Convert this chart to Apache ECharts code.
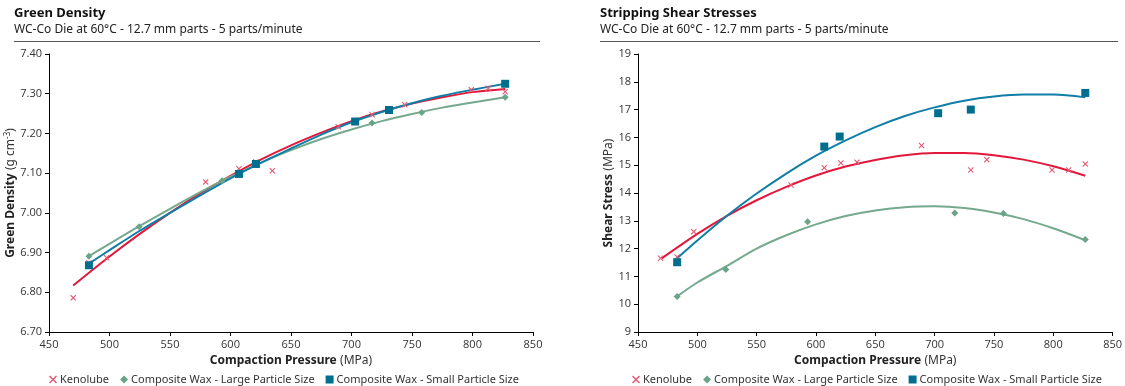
<!DOCTYPE html>
<html><head><meta charset="utf-8">
<script src="https://cdn.jsdelivr.net/npm/echarts@6/dist/echarts.min.js"></script>
<style>html,body{margin:0;padding:0;background:#fff}#c{width:1125px;height:386px}</style>
</head><body><div id="c"></div>
<script>
// ---------- data ----------
const seriesNames = ['Kenolube', 'Composite Wax - Large Particle Size', 'Composite Wax - Small Particle Size'];

// Green Density chart
const gdKenoX = [470, 483, 497.6, 579.5, 607, 621, 634.6, 689, 703, 717, 744, 799, 813, 827];
const gdKenoY = [6.786, 6.874, 6.887, 7.078, 7.111, 7.128, 7.106, 7.217, 7.232, 7.247, 7.272, 7.31, 7.314, 7.305];
const gdLargeX = [483, 524.5, 593, 717, 758, 827];
const gdLargeY = [6.891, 6.965, 7.081, 7.226, 7.253, 7.291];
const gdSmallX = [483, 607, 621, 703, 731, 827];
const gdSmallY = [6.868, 7.098, 7.123, 7.230, 7.259, 7.325];
// trend lines
const gdKenoTrendX = [470, 500, 525, 550, 575, 600, 625, 650, 675, 700, 725, 750, 775, 800, 827];
const gdKenoTrendY = [6.817, 6.890, 6.947, 7.000, 7.049, 7.093, 7.134, 7.170, 7.202, 7.231, 7.255, 7.275, 7.291, 7.304, 7.312];
const gdLargeTrendX = [483, 500, 525, 550, 575, 600, 625, 650, 675, 700, 725, 750, 775, 800, 827];
const gdLargeTrendY = [6.891, 6.922, 6.967, 7.010, 7.052, 7.091, 7.126, 7.158, 7.186, 7.210, 7.231, 7.249, 7.265, 7.278, 7.291];
const gdSmallTrendX = [483, 500, 525, 550, 575, 600, 625, 650, 675, 700, 725, 750, 775, 800, 827];
const gdSmallTrendY = [6.872, 6.906, 6.955, 7.000, 7.044, 7.087, 7.126, 7.162, 7.197, 7.228, 7.254, 7.276, 7.295, 7.310, 7.325];

// Shear Stress chart
const ssKenoX = [469, 483, 497, 579, 607, 621, 634.5, 689, 730.5, 744, 799, 813, 827];
const ssKenoY = [11.655, 11.70, 12.61, 14.29, 14.91, 15.08, 15.11, 15.71, 14.83, 15.20, 14.83, 14.83, 15.04];
const ssLargeX = [483, 524, 593, 717, 758, 827];
const ssLargeY = [10.28, 11.25, 12.97, 13.28, 13.26, 12.33];
const ssSmallX = [483, 607, 620, 703, 730.5, 827];
const ssSmallY = [11.51, 15.67, 16.03, 16.87, 17.00, 17.60];
const ssKenoTrendX = [470, 500, 525, 550, 575, 600, 625, 650, 675, 700, 725, 750, 775, 800, 827];
const ssKenoTrendY = [11.65, 12.53, 13.18, 13.74, 14.22, 14.63, 14.95, 15.19, 15.36, 15.44, 15.44, 15.36, 15.20, 14.96, 14.62];
const ssLargeTrendX = [483, 500, 525, 550, 575, 600, 625, 650, 675, 700, 725, 750, 775, 800, 827];
const ssLargeTrendY = [10.28, 10.78, 11.38, 12.00, 12.48, 12.87, 13.17, 13.37, 13.49, 13.52, 13.46, 13.30, 13.06, 12.73, 12.30];
const ssSmallTrendX = [483, 500, 525, 550, 575, 600, 625, 650, 675, 700, 725, 750, 775, 800, 827];
const ssSmallTrendY = [11.65, 12.29, 13.18, 13.98, 14.70, 15.34, 15.89, 16.37, 16.77, 17.08, 17.32, 17.47, 17.54, 17.54, 17.44];

const xMin = 450, xMax = 850, xStep = 50;
const gdMin = 6.70, gdMax = 7.40, gdStep = 0.10;
const ssMin = 9, ssMax = 19, ssStep = 1;

// ---------- styles ----------
const RED_LINE = '#e3173c', RED_MK = '#e65a74';
const GREEN_LINE = '#75a98e', GREEN_MK = '#6aa387';
const BLUE_LINE = '#0f7ea6', BLUE_MK = '#006f8e';
const XPATH = 'path://M0,1.3L1.3,0L5,3.7L8.7,0L10,1.3L6.3,5L10,8.7L8.7,10L5,6.3L1.3,10L0,8.7L3.7,5Z';
const FONT = '"Open Sans", "Noto Sans", sans-serif';

const zip = (xs, ys) => xs.map((x, i) => [x, ys[i]]);

function axisX(gi) {
  return {
    type: 'value', gridIndex: gi, min: xMin, max: xMax, interval: xStep,
    axisLine: { show: true, onZero: false, lineStyle: { color: '#000', width: 1 } },
    axisTick: { show: true, length: 4, lineStyle: { color: '#000' } },
    axisLabel: { color: '#333', fontSize: 11, fontFamily: FONT, margin: 7 },
    splitLine: { show: false },
    name: '{b|Compaction Pressure} {n|(MPa)}', nameLocation: 'middle', nameGap: 20,
    nameTextStyle: { rich: {
      b: { fontWeight: 'bold', fontSize: 12, color: '#222', fontFamily: '"Noto Sans", sans-serif' },
      n: { fontSize: 12, color: '#333', fontFamily: '"Noto Sans", sans-serif' } } }
  };
}
function axisY(gi, mn, mx, st, dec, name, gap) {
  return {
    type: 'value', gridIndex: gi, min: mn, max: mx, interval: st,
    axisLine: { show: true, lineStyle: { color: '#000', width: 1 } },
    axisTick: { show: true, length: 4, lineStyle: { color: '#000' } },
    axisLabel: { color: '#333', fontSize: 11, fontFamily: FONT, margin: 7,
      formatter: v => v.toFixed(dec) },
    splitLine: { show: false },
    name: name, nameLocation: 'middle', nameGap: gap,
    nameTextStyle: { rich: {
      b: { fontWeight: 'bold', fontSize: 12, color: '#222', fontFamily: '"Noto Sans", sans-serif' },
      n: { fontSize: 12, color: '#333', fontFamily: '"Noto Sans", sans-serif' },
      s: { fontSize: 8, color: '#333', verticalAlign: 'top', padding: [0, 0, 6, 0], fontFamily: '"Noto Sans", sans-serif' } } }
  };
}
function scatter(name, gi, data, sym, size, color) {
  return { type: 'scatter', name, xAxisIndex: gi, yAxisIndex: gi, data, symbol: sym, symbolSize: size,
    itemStyle: { color, opacity: 1 }, z: 5, emphasis: { disabled: true } };
}
function trend(name, gi, data, color) {
  return { type: 'line', name, xAxisIndex: gi, yAxisIndex: gi, data, smooth: 0.3, showSymbol: false,
    lineStyle: { color, width: 2 }, z: 3, emphasis: { disabled: true } };
}
function legend(left) {
  return { left, top: 369, itemGap: 11, itemWidth: 8, itemHeight: 8, data: seriesNames,
    textStyle: { fontSize: 11, color: '#333', fontFamily: '"Noto Sans", sans-serif', padding: [0, 0, 0, -2] }, selectedMode: false };
}
function titleText(x, title, sub) {
  return [
    { type: 'text', left: x, top: 7, style: { text: title, font: 'bold 13px "Noto Sans", sans-serif', fill: '#111' } },
    { type: 'text', left: x, top: 24, style: { text: sub, font: '12px "Noto Sans", sans-serif', fill: '#222' } }
  ];
}

const subTitle = 'WC-Co Die at 60°C - 12.7 mm parts - 5 parts/minute';

const option = {
  animation: false,
  backgroundColor: '#fff',
  grid: [
    { left: 49, top: 54, width: 484, height: 278 },
    { left: 638, top: 54, width: 479, height: 278 }
  ],
  xAxis: [axisX(0), axisX(1)],
  yAxis: [
    axisY(0, gdMin, gdMax, gdStep, 2, '{b|Green Density} {n|(g cm}{s|-3}{n|)}', 27),
    axisY(1, ssMin, ssMax, ssStep, 0, '{b|Shear Stress} {n|(MPa)}', 20)
  ],
  legend: [legend(44), legend(627)],
  graphic: [
    ...titleText(14, 'Green Density', subTitle),
    ...titleText(600, 'Stripping Shear Stresses', subTitle),
    { type: 'line', shape: { x1: 14, y1: 41.5, x2: 540, y2: 41.5 }, style: { stroke: '#555', lineWidth: 1.2 } },
    { type: 'line', shape: { x1: 600, y1: 41.5, x2: 1118, y2: 41.5 }, style: { stroke: '#555', lineWidth: 1.2 } }
  ],
  series: [
    trend('k-trend-0', 0, zip(gdKenoTrendX, gdKenoTrendY), RED_LINE),
    trend('l-trend-0', 0, zip(gdLargeTrendX, gdLargeTrendY), GREEN_LINE),
    trend('s-trend-0', 0, zip(gdSmallTrendX, gdSmallTrendY), BLUE_LINE),
    scatter(seriesNames[0], 0, zip(gdKenoX, gdKenoY), XPATH, 6, RED_MK),
    scatter(seriesNames[1], 0, zip(gdLargeX, gdLargeY), 'diamond', 7, GREEN_MK),
    scatter(seriesNames[2], 0, zip(gdSmallX, gdSmallY), 'rect', 8, BLUE_MK),
    trend('k-trend-1', 1, zip(ssKenoTrendX, ssKenoTrendY), RED_LINE),
    trend('l-trend-1', 1, zip(ssLargeTrendX, ssLargeTrendY), GREEN_LINE),
    trend('s-trend-1', 1, zip(ssSmallTrendX, ssSmallTrendY), BLUE_LINE),
    scatter(seriesNames[0], 1, zip(ssKenoX, ssKenoY), XPATH, 6, RED_MK),
    scatter(seriesNames[1], 1, zip(ssLargeX, ssLargeY), 'diamond', 7, GREEN_MK),
    scatter(seriesNames[2], 1, zip(ssSmallX, ssSmallY), 'rect', 8, BLUE_MK)
  ]
};
echarts.init(document.getElementById('c'), null, { renderer: 'canvas' }).setOption(option);
</script>
</body></html>
